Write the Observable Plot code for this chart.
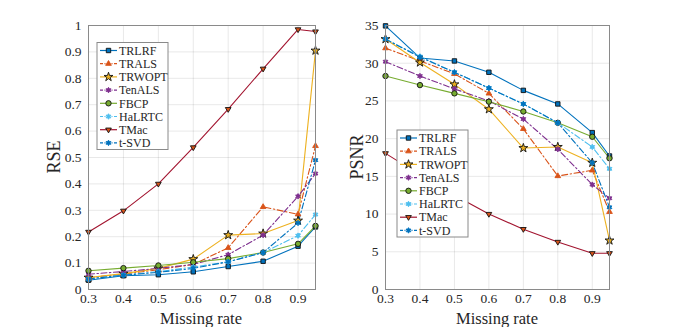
<!DOCTYPE html>
<html><head><meta charset="utf-8">
<script src="https://cdn.jsdelivr.net/npm/d3@7"></script>
<script src="https://cdn.jsdelivr.net/npm/@observablehq/plot@0.6"></script>
<style>
body{margin:0;background:#fff}
#wrap{position:relative;width:674px;height:327px;overflow:hidden}
.p{position:absolute;top:0}
svg text{font-family:"Liberation Serif","Times New Roman",serif !important}
</style></head><body><div id="wrap"></div>
<script>
const missingRate = [0.3, 0.4, 0.5, 0.6, 0.7, 0.8, 0.9, 0.95];
const xTicks = [0.3, 0.4, 0.5, 0.6, 0.7, 0.8, 0.9];
const rseTicks = [0, 0.1, 0.2, 0.3, 0.4, 0.5, 0.6, 0.7, 0.8, 0.9, 1];
const psnrTicks = [0, 5, 10, 15, 20, 25, 30, 35];
const methods = ["TRLRF", "TRALS", "TRWOPT", "TenALS", "FBCP", "HaLRTC", "TMac", "t-SVD"];

// RSE values
const rseTRLRF  = [0.035, 0.052, 0.056, 0.067, 0.087, 0.107, 0.164, 0.237];
const rseTRALS  = [0.045, 0.058, 0.075, 0.095, 0.158, 0.313, 0.285, 0.544];
const rseTRWOPT = [0.045, 0.060, 0.080, 0.115, 0.206, 0.212, 0.261, 0.905];
const rseTenALS = [0.058, 0.068, 0.080, 0.095, 0.132, 0.206, 0.353, 0.439];
const rseFBCP   = [0.071, 0.081, 0.091, 0.103, 0.117, 0.140, 0.173, 0.241];
const rseHaLRTC = [0.040, 0.055, 0.068, 0.085, 0.105, 0.140, 0.204, 0.284];
const rseTMac   = [0.218, 0.298, 0.400, 0.538, 0.683, 0.836, 0.985, 0.977];
const rseTSVD   = [0.040, 0.054, 0.065, 0.080, 0.105, 0.140, 0.252, 0.490];

// PSNR values
const psnrTRLRF  = [34.95, 30.7, 30.3, 28.8, 26.4, 24.6, 20.8, 17.7];
const psnrTRALS  = [32.0, 30.3, 28.6, 26.0, 21.3, 15.05, 15.8, 10.3];
const psnrTRWOPT = [33.2, 30.1, 27.2, 23.9, 18.75, 18.9, 16.8, 6.5];
const psnrTenALS = [30.2, 28.3, 26.6, 25.0, 22.6, 18.6, 13.9, 12.1];
const psnrFBCP   = [28.3, 27.1, 26.0, 24.9, 23.6, 22.1, 20.25, 17.4];
const psnrHaLRTC = [33.2, 30.9, 28.8, 26.7, 24.6, 22.1, 18.9, 16.0];
const psnrTMac   = [18.05, 15.2, 12.5, 10.0, 8.0, 6.3, 4.8, 4.8];
const psnrTSVD   = [33.2, 30.8, 28.8, 26.7, 24.6, 22.1, 16.8, 10.9];

const rseSeries = [rseTRLRF, rseTRALS, rseTRWOPT, rseTenALS, rseFBCP, rseHaLRTC, rseTMac, rseTSVD];
const psnrSeries = [psnrTRLRF, psnrTRALS, psnrTRWOPT, psnrTenALS, psnrFBCP, psnrHaLRTC, psnrTMac, psnrTSVD];

// hexagram symbol
const hexagram = {
  draw(ctx, size) {
    const R = Math.sqrt(size / Math.PI) * 1.15, r = R * 0.55;
    for (let i = 0; i < 12; i++) {
      const a = -Math.PI / 2 + i * Math.PI / 6, rr = i % 2 ? r : R;
      const x = rr * Math.cos(a), y = rr * Math.sin(a);
      i ? ctx.lineTo(x, y) : ctx.moveTo(x, y);
    }
    ctx.closePath();
  }
};
const triDown = {
  draw(ctx, size) {
    const R = Math.sqrt(size / Math.PI) * 1.25;
    ctx.moveTo(-R * 0.95, -R * 0.55); ctx.lineTo(R * 0.95, -R * 0.55); ctx.lineTo(0, R * 1.05); ctx.closePath();
  }
};
const triUp = {
  draw(ctx, size) {
    const R = Math.sqrt(size / Math.PI) * 1.25;
    ctx.moveTo(-R * 0.95, R * 0.55); ctx.lineTo(R * 0.95, R * 0.55); ctx.lineTo(0, -R * 1.05); ctx.closePath();
  }
};

const DD = "6,2.5,1.5,2.5";
const styles = {
  "TRLRF":  {color: "#0072BD", dash: null, symbol: d3.symbolSquare, fill: "#0072BD", stroke: "#111", r: 2.5},
  "TRALS":  {color: "#D95319", dash: DD,   symbol: triUp, fill: "#D95319", stroke: "#D95319", r: 2.4},
  "TRWOPT": {color: "#EDB120", dash: null, symbol: d3.symbolStar, fill: "#EDB120", stroke: "#111", r: 2.8},
  "TenALS": {color: "#7E2F8E", dash: DD,   symbol: hexagram, fill: "#7E2F8E", stroke: "#7E2F8E", r: 2.4},
  "FBCP":   {color: "#77AC30", dash: null, symbol: d3.symbolCircle, fill: "#77AC30", stroke: "#111", r: 2.7},
  "HaLRTC": {color: "#4DBEEE", dash: DD,   symbol: hexagram, fill: "#4DBEEE", stroke: "#4DBEEE", r: 2.4},
  "TMac":   {color: "#A2142F", dash: null, symbol: triDown, fill: "#D95319", stroke: "#111", r: 2.4},
  "t-SVD":  {color: "#0072BD", dash: DD,   symbol: hexagram, fill: "#0072BD", stroke: "#0072BD", r: 2.4}
};

const FONT = '"Liberation Serif", "Times New Roman", serif';

function makePlot(series, yTicks, yDomain, opts) {
  const marks = [];
  methods.forEach((m, i) => {
    const s = styles[m];
    const data = missingRate.map((x, j) => ({x, y: series[i][j]}));
    marks.push(Plot.line(data, {x: "x", y: "y", stroke: s.color, strokeWidth: 1.1, strokeDasharray: s.dash}));
  });
  methods.forEach((m, i) => {
    const s = styles[m];
    const data = missingRate.map((x, j) => ({x, y: series[i][j]}));
    marks.push(Plot.dot(data, {x: "x", y: "y", symbol: s.symbol, fill: s.fill, stroke: s.stroke, strokeWidth: 0.9, r: s.r}));
  });
  return Plot.plot({
    width: opts.width, height: 327,
    marginLeft: opts.ml, marginRight: opts.mr, marginTop: 25, marginBottom: 38,
    style: {fontFamily: FONT, fontSize: "13.5px", color: "#262626", background: "transparent"},
    x: {domain: [0.3, 0.95], ticks: xTicks, tickFormat: d => String(d), tickSize: 0, tickPadding: 4, label: null},
    y: {domain: yDomain, ticks: yTicks, tickFormat: d => String(d), tickSize: 0, tickPadding: 7, label: null},
    marks: [
      Plot.gridX(xTicks, {stroke: "#000", strokeOpacity: 0.09}),
      Plot.gridY(yTicks, {stroke: "#000", strokeOpacity: 0.09}),
      ...marks,
      Plot.frame({stroke: "#8a8a8a", strokeWidth: 1})
    ]
  });
}

function addDecor(svg, opts) {
  const g = d3.select(svg);
  // axis labels
  g.append("text").attr("x", opts.xLabelX).attr("y", 323.5).attr("text-anchor", "middle")
    .attr("font-family", FONT).attr("font-size", 16.5).attr("fill", "#262626").text("Missing rate");
  g.append("text").attr("transform", `translate(${opts.yLabelX},157) rotate(-90)`).attr("text-anchor", "middle")
    .attr("font-family", FONT).attr("font-size", 18).attr("fill", "#262626").text(opts.yLabel);
  // legend
  const lg = g.append("g");
  const bx = opts.legX, by = opts.legY, bw = 71, bh = 107, step = 13.2;
  lg.append("rect").attr("x", bx).attr("y", by).attr("width", bw).attr("height", bh)
    .attr("fill", "white").attr("stroke", "#8a8a8a").attr("stroke-width", 1);
  methods.forEach((m, i) => {
    const s = styles[m];
    const cy = by + 8 + i * step;
    lg.append("line").attr("x1", bx + 3).attr("x2", bx + 20).attr("y1", cy).attr("y2", cy)
      .attr("stroke", s.color).attr("stroke-width", 1.2).attr("stroke-dasharray", s.dash ? "3,1.5,1,1.5" : null);
    lg.append("path").attr("d", d3.symbol(s.symbol, Math.PI * s.r * s.r)())
      .attr("transform", `translate(${bx + 11.5},${cy})`)
      .attr("fill", s.fill).attr("stroke", s.stroke).attr("stroke-width", 0.9);
    lg.append("text").attr("x", bx + 22).attr("y", cy).attr("dy", "0.35em").attr("text-anchor", "start")
      .attr("font-family", FONT).attr("font-size", 12).attr("fill", "#262626").text(m);
  });
}

const wrap = document.getElementById("wrap");
const left = makePlot(rseSeries, rseTicks, [0, 1], {width: 340, ml: 88, mr: 25});
addDecor(left, {xLabelX: 201, yLabelX: 60, yLabel: "RSE", legX: 97, legY: 42.5});
left.classList.add("p"); left.style.left = "0px";
wrap.appendChild(left);

const right = makePlot(psnrSeries, psnrTicks, [0, 35], {width: 334, ml: 45, mr: 65});
addDecor(right, {xLabelX: 157, yLabelX: 23, yLabel: "PSNR", legX: 57, legY: 130});
right.classList.add("p"); right.style.left = "340px";
wrap.appendChild(right);
</script>
</body></html>
